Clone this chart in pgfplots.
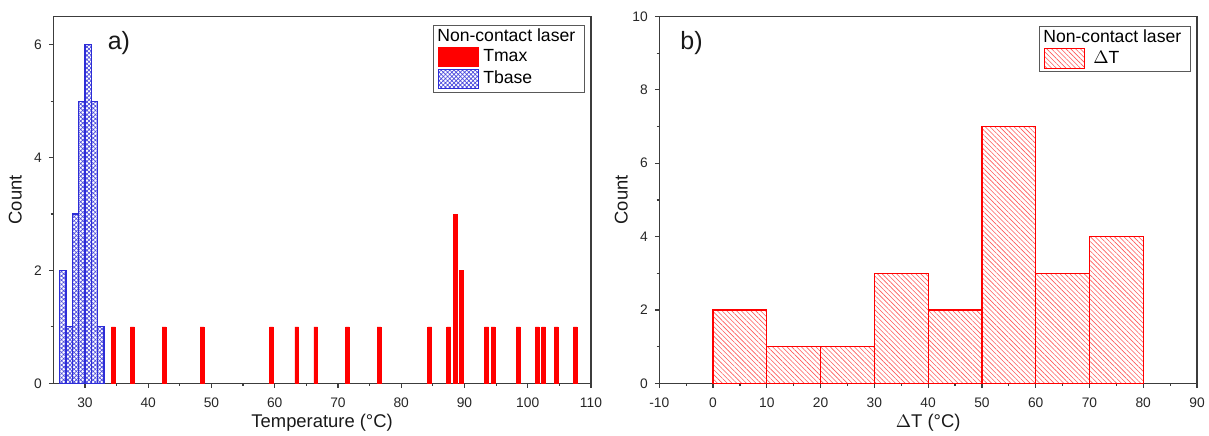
\documentclass[border=0pt]{standalone}
\usepackage{fontspec}
\setmainfont{Liberation Sans}
\usepackage{pgfplots}
\pgfplotsset{compat=1.18}
\usetikzlibrary{patterns,patterns.meta}

\definecolor{axisgray}{RGB}{60,60,60}
\definecolor{hblue}{RGB}{45,45,215}
\definecolor{hred}{RGB}{255,0,0}

\pgfplotsset{
  panel/.style={
    scale only axis, width=268.85pt, height=183.4pt,
    axis line style={axisgray, line width=0.7pt},
    tick style={axisgray, line width=0.6pt},
    tick align=outside,
    xtick pos=left, ytick pos=left,
    major tick length=2.2pt, minor tick length=1.3pt,
    minor x tick num=1, minor y tick num=1,
    tick label style={font=\fontsize{6.9}{8}\selectfont, text=black!85},
    xticklabel style={yshift=-1.5pt},
    /pgf/number format/assume math mode=true,
    label style={font=\fontsize{9.2}{11}\selectfont, text=black!90},
    x label style={at={(axis description cs:0.5,-0.107)}, anchor=center},
    y label style={at={(axis description cs:-0.0705,0.5)}, anchor=center, rotate=0},
    legend cell align=left,
    legend style={draw=gray!70!black, line width=0.4pt,
      font=\fontsize{8.8}{10}\selectfont, inner xsep=2.5pt, inner ysep=1.6pt,
      row sep=0.9pt, nodes={inner ysep=0.3pt}},
    legend image code/.code={\draw[##1, line width=0.5pt] (0pt,-4.8pt) rectangle (20pt,4.8pt);},
  },
}

\begin{document}
\begin{tikzpicture}
\useasboundingbox (0,0) rectangle (604.5pt,217.5pt);

% ---------------- panel a ----------------
\begin{axis}[panel,
  at={(26.65pt,25.85pt)}, anchor=south west,
  xmin=25, xmax=110, ymin=0, ymax=6.5,
  xtick={30,40,...,110}, ytick={0,2,4,6},
  xlabel={Temperature (°C)}, ylabel={Count},
  legend style={at={(0.706,0.978)}, anchor=north west},
]
\addlegendimage{empty legend}
\addlegendentry{\hspace{-23pt}Non-contact laser\hspace{2.5pt}}
\addplot[ybar, bar width=0.6, bar shift=0pt, draw=hred, fill=hred, line width=0.3pt]
  coordinates {(34.5,1) (37.5,1) (42.5,1) (48.5,1) (59.5,1) (63.5,1) (66.5,1)
    (71.5,1) (76.5,1) (84.5,1) (87.5,1) (88.5,3) (89.5,2) (93.5,1) (94.5,1)
    (98.5,1) (101.5,1) (102.5,1) (104.5,1) (107.5,1)};
\addlegendentry{Tmax}
\addplot[ybar, bar width=1, bar shift=0pt, draw=hblue, line width=0.6pt,
  pattern={Hatch[angle=45, distance=1.5pt, line width=0.35pt]}, pattern color=hblue!85]
  coordinates {(26.5,2) (27.5,1) (28.5,3) (29.5,5) (30.5,6) (31.5,5) (32.5,1)};
\addlegendentry{Tbase}
\node[font=\fontsize{12.5}{14}\selectfont, text=black!90] at (rel axis cs:0.122,0.928) {a)};
\end{axis}

% ---------------- panel b ----------------
\begin{axis}[panel,
  at={(329.65pt,25.85pt)}, anchor=south west,
  xmin=-10, xmax=90, ymin=0, ymax=10,
  xtick={-10,0,...,90}, xticklabels={-10,0,10,20,30,40,50,60,70,80,90},
  ytick={0,2,...,10},
  xlabel={$\Delta$T (°C)}, ylabel={Count},
  legend style={at={(0.706,0.974)}, anchor=north west},
]
\addlegendimage{empty legend}
\addlegendentry{\hspace{-23pt}Non-contact laser\hspace{2.5pt}}
\addplot[ybar, bar width=10, bar shift=0pt, draw=hred, line width=0.6pt,
  pattern={Lines[angle=-45, distance=1.7pt, line width=0.3pt]}, pattern color=hred!65]
  coordinates {(5,2) (15,1) (25,1) (35,3) (45,2) (55,7) (65,3) (75,4)};
\addlegendentry{\hspace{2pt}$\Delta$T}
\node[font=\fontsize{12.5}{14}\selectfont, text=black!90] at (rel axis cs:0.06,0.929) {b)};
\end{axis}
\end{tikzpicture}
\end{document}
